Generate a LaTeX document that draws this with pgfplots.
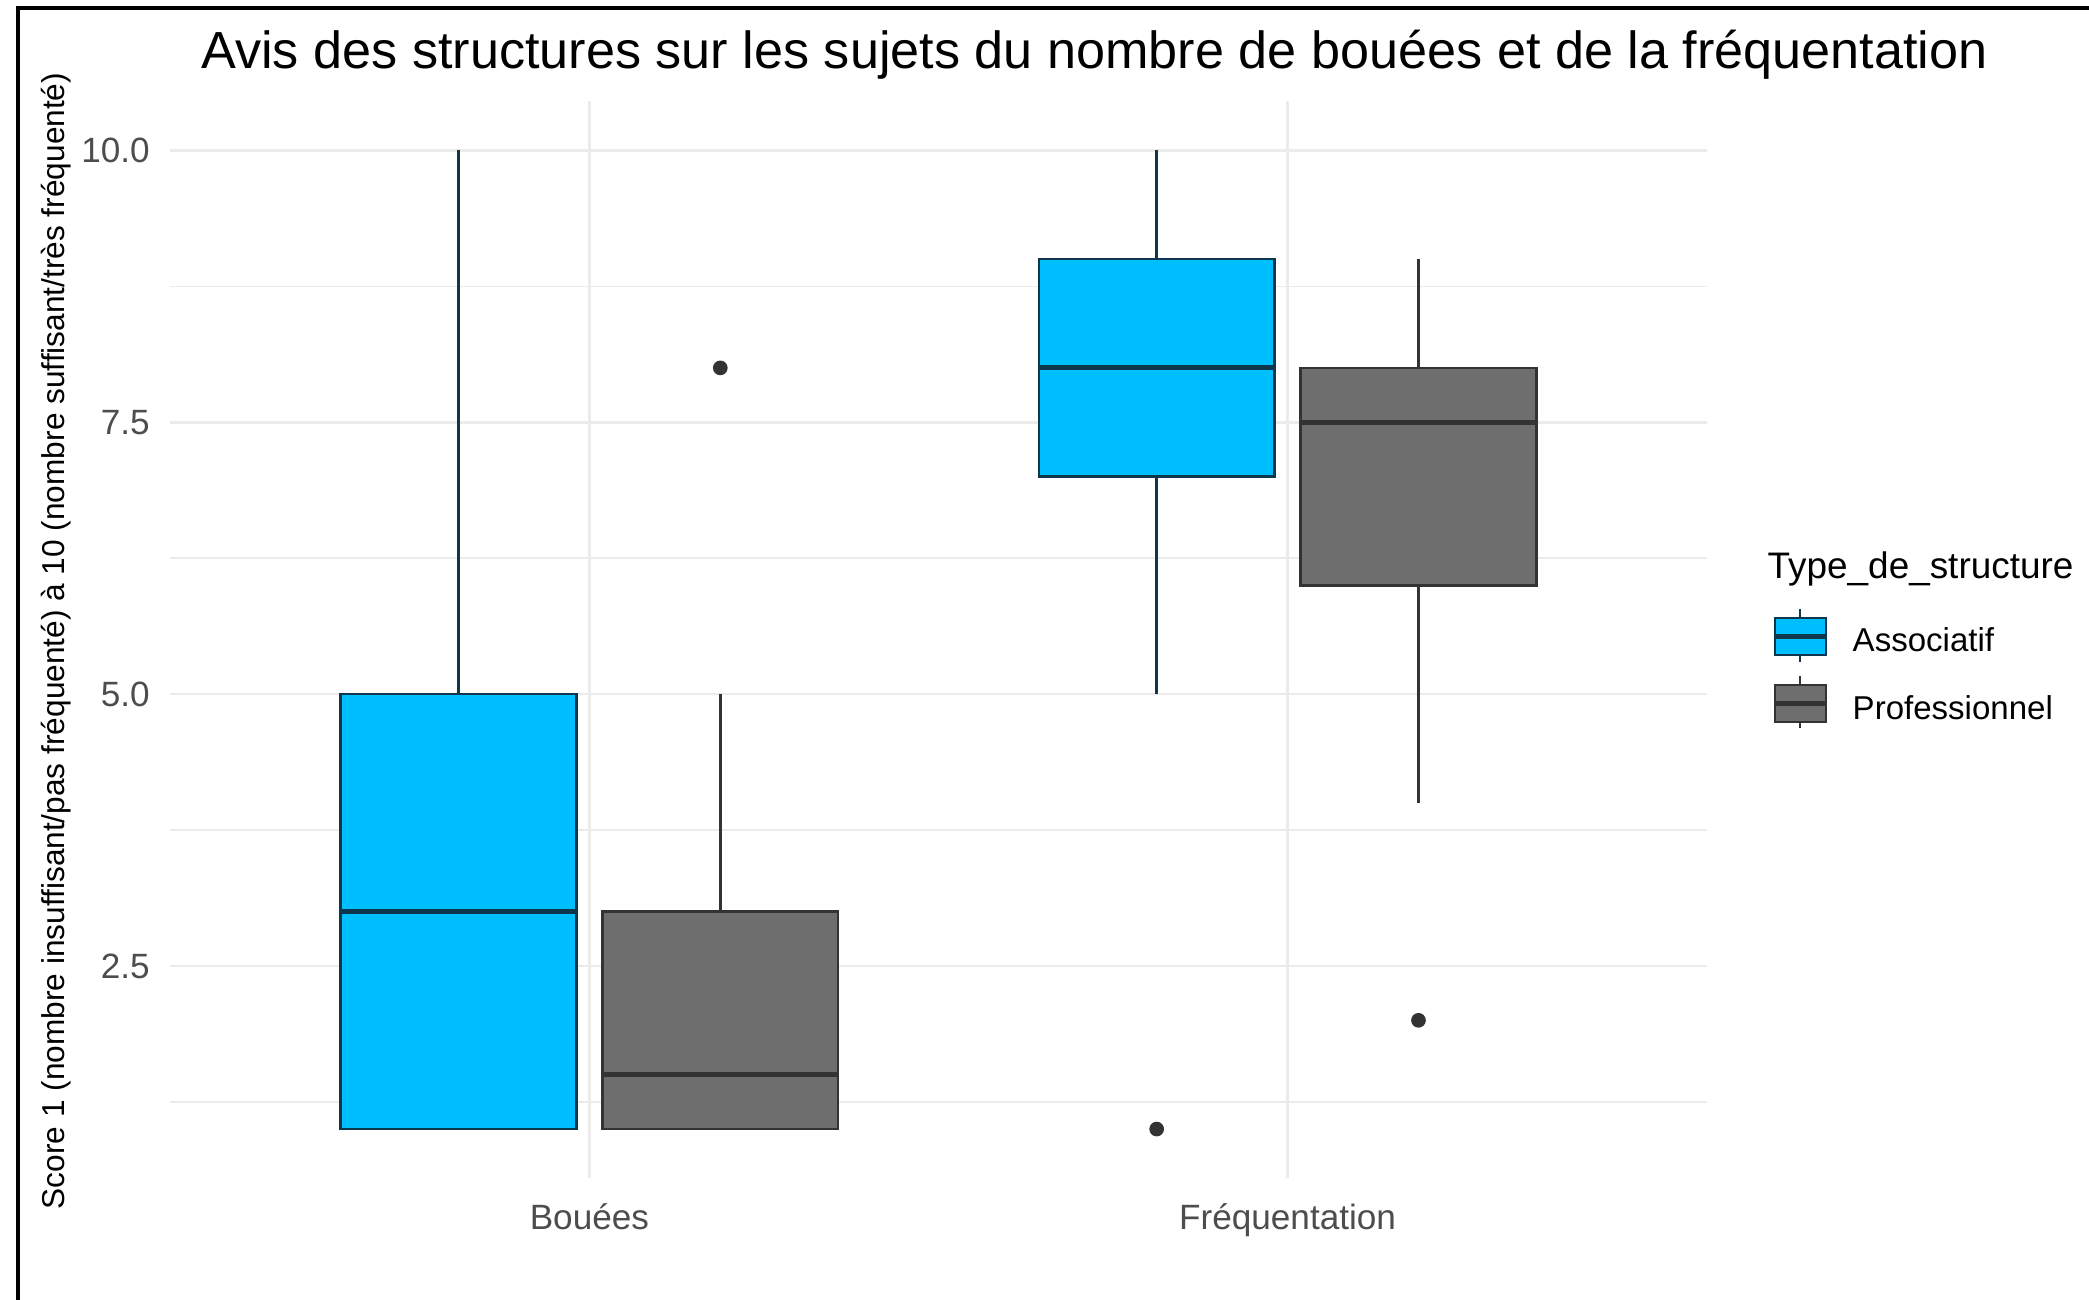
\documentclass[border=0pt]{standalone}
\usepackage{fontspec}
\setmainfont{Liberation Sans}
\usepackage{pgfplots}
\pgfplotsset{compat=1.18}
\usepgfplotslibrary{statistics}
\definecolor{assocfill}{RGB}{0,191,255}
\definecolor{assocdraw}{RGB}{15,55,75}
\definecolor{profill}{RGB}{110,110,110}
\definecolor{prodraw}{RGB}{51,51,51}
\definecolor{gridgray}{RGB}{235,235,235}
\definecolor{ticktext}{RGB}{77,77,77}

\begin{document}
\begin{tikzpicture}
\useasboundingbox (-1.705,-1.22) rectangle (19.185,11.78);
\begin{axis}[
    at={(0,0)}, anchor=south west,
    scale only axis,
    width=15.36cm, height=10.765cm,
    xmin=0.4, xmax=2.6,
    ymin=0.55, ymax=10.45,
    axis line style={draw=none},
    major tick length=0pt, minor tick length=0pt,
    xtick={1,2}, xticklabels={Bouées,Fréquentation},
    ytick={2.5,5,7.5,10}, yticklabels={2.5,5.0,7.5,10.0},
    minor ytick={1.25,3.75,6.25,8.75},
    grid=both,
    major grid style={draw=gridgray, line width=0.75pt},
    minor grid style={draw=gridgray, line width=0.4pt},
    tick label style={font=\fontsize{10}{12}\selectfont, text=ticktext},
    xticklabel style={anchor=base, yshift=-0.52cm},
    yticklabel style={anchor=east, inner sep=0pt, xshift=-0.2cm},
    boxplot/draw direction=y,
    boxplot/every median/.style={line width=1.4pt},
    boxplot/box extend=0.3375,
    boxplot/whisker extend=0,
    clip=false,
]

% Bouees - Associatif
\addplot[boxplot prepared={draw position=0.8125,
    lower whisker=1, lower quartile=1, median=3,
    upper quartile=5, upper whisker=10},
    draw=assocdraw, fill=assocfill, line width=0.77pt] coordinates {};

% Bouees - Professionnel
\addplot[boxplot prepared={draw position=1.1875,
    lower whisker=1, lower quartile=1, median=1.5,
    upper quartile=3, upper whisker=5},
    draw=prodraw, fill=profill, line width=0.77pt,
    mark=*, mark size=1.7pt, mark options={draw=prodraw, fill=prodraw}]
    table[row sep=\\, y index=0] {data\\ 8\\};

% Frequentation - Associatif
\addplot[boxplot prepared={draw position=1.8125,
    lower whisker=5, lower quartile=7, median=8,
    upper quartile=9, upper whisker=10},
    draw=assocdraw, fill=assocfill, line width=0.77pt,
    mark=*, mark size=1.7pt, mark options={draw=prodraw, fill=prodraw}]
    table[row sep=\\, y index=0] {data\\ 1\\};

% Frequentation - Professionnel
\addplot[boxplot prepared={draw position=2.1875,
    lower whisker=4, lower quartile=6, median=7.5,
    upper quartile=8, upper whisker=9},
    draw=prodraw, fill=profill, line width=0.77pt,
    mark=*, mark size=1.7pt, mark options={draw=prodraw, fill=prodraw}]
    table[row sep=\\, y index=0] {data\\ 2\\};

\end{axis}

% title and y label
\node[anchor=base, font=\fontsize{14.85}{17}\selectfont] at (9.24,11.09)
    {Avis des structures sur les sujets du nombre de bouées et de la fréquentation};
\node[rotate=90, font=\fontsize{9}{11}\selectfont] at (-1.145,5.37)
    {Score 1 (nombre insuffisant/pas fréquenté) à 10 (nombre suffisant/très fréquenté)};

% legend
\node[anchor=base west, inner sep=0pt, font=\fontsize{10.5}{12}\selectfont] at (15.965,5.99) {Type\_de\_structure};
\draw[assocdraw, line width=0.77pt] (16.295,5.69) -- (16.295,5.16);
\draw[assocdraw, fill=assocfill, line width=0.77pt] (16.045,5.23) rectangle (16.555,5.60);
\draw[assocdraw, line width=1.4pt] (16.045,5.415) -- (16.555,5.415);
\draw[prodraw, line width=0.77pt] (16.295,5.02) -- (16.295,4.50);
\draw[prodraw, fill=profill, line width=0.77pt] (16.045,4.56) rectangle (16.555,4.93);
\draw[prodraw, line width=1.4pt] (16.045,4.745) -- (16.555,4.745);
\node[anchor=base west, inner sep=0pt, font=\fontsize{9.4}{11}\selectfont] at (16.815,5.26) {Associatif};
\node[anchor=base west, inner sep=0pt, font=\fontsize{9.4}{11}\selectfont] at (16.815,4.58) {Professionnel};

% frame
\draw[line width=1.1pt] (-1.525,-1.22) -- (-1.525,11.70) -- (19.185,11.70);
\end{tikzpicture}
\end{document}
